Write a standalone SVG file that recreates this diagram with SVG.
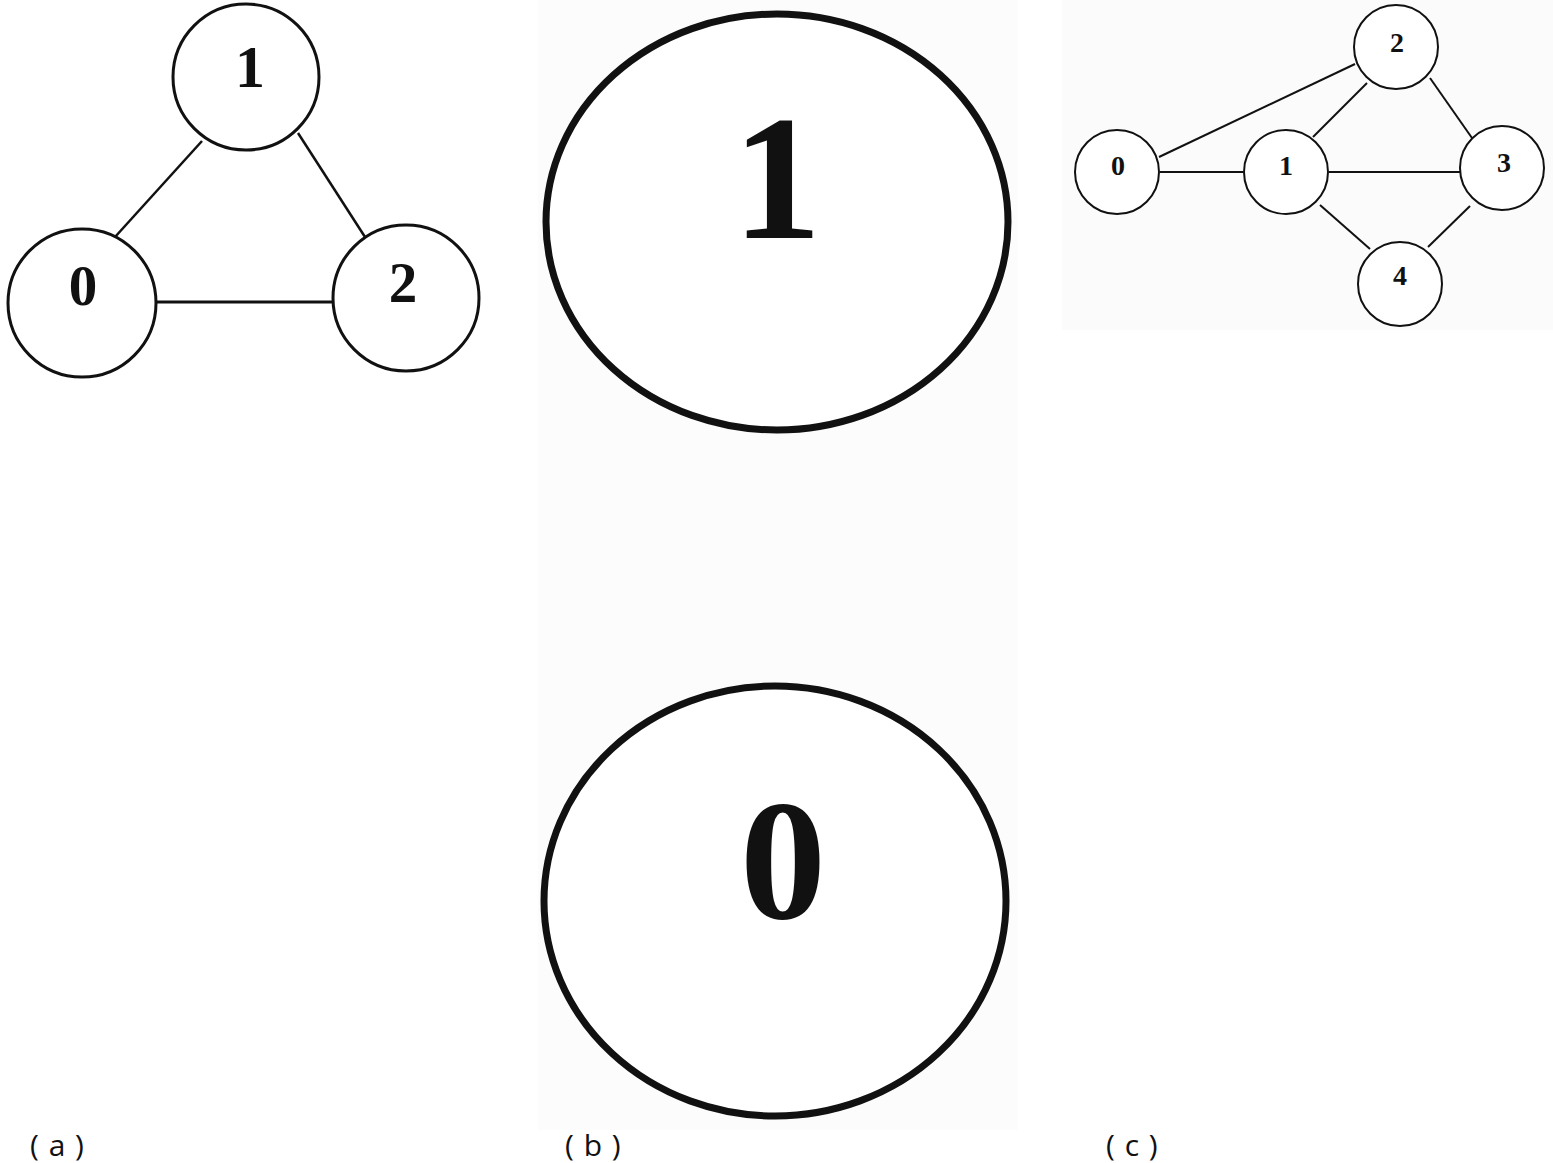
<svg xmlns="http://www.w3.org/2000/svg" width="1553" height="1163" viewBox="0 0 1553 1163">
<style>
.n{fill:#fff;stroke:#111}
.d{font-family:"Liberation Serif","Times New Roman",serif;font-weight:bold;fill:#111;text-anchor:middle}
.e{stroke:#111;fill:none}
.lab{font-family:"Open Sans","DejaVu Sans",sans-serif;font-size:30px;fill:#111;letter-spacing:1px}
</style>
<rect x="0" y="0" width="1553" height="1163" fill="#fff"/>
<rect x="538" y="0" width="480" height="1130" fill="#fcfcfc"/>
<rect x="1062" y="0" width="491" height="330" fill="#fbfbfb"/>
<g id="connectors">
  <g stroke-width="2.5" class="e">
    <line x1="156" y1="302" x2="332" y2="302" stroke-width="3"/>
    <line x1="202" y1="141" x2="115" y2="237"/>
    <line x1="298" y1="133" x2="365" y2="237"/>
  </g>
  <g stroke-width="2" class="e">
    <line x1="1159" y1="157" x2="1355" y2="64"/>
    <line x1="1160" y1="172" x2="1243" y2="172"/>
    <line x1="1313" y1="137" x2="1367" y2="83"/>
    <line x1="1430" y1="78" x2="1472" y2="138"/>
    <line x1="1329" y1="172" x2="1460" y2="172"/>
    <line x1="1320" y1="205" x2="1370" y2="249"/>
    <line x1="1470" y1="206" x2="1428" y2="247"/>
  </g>
</g>
<g id="a-node1"><circle class="n" cx="246" cy="77" r="73" stroke-width="3"/><text class="d" x="250" y="87" font-size="60">1</text></g>
<g id="a-node0"><circle class="n" cx="82" cy="303" r="74" stroke-width="3"/><text class="d" x="83" y="305" font-size="57">0</text></g>
<g id="a-node2"><circle class="n" cx="406" cy="298" r="73" stroke-width="3"/><text class="d" x="403" y="302" font-size="57">2</text></g>
<g id="b-node1"><ellipse class="n" cx="777" cy="222" rx="231" ry="208" stroke-width="7"/><text class="d" x="777" y="238" font-size="178">1</text></g>
<g id="b-node0"><ellipse class="n" cx="775" cy="901" rx="231" ry="215" stroke-width="7"/><text class="d" x="783" y="918" font-size="172">0</text></g>
<g id="c-node0"><circle class="n" cx="1117" cy="172" r="42" stroke-width="2"/><text class="d" x="1118" y="175" font-size="28">0</text></g>
<g id="c-node1"><circle class="n" cx="1286" cy="172" r="42" stroke-width="2"/><text class="d" x="1286" y="175" font-size="28">1</text></g>
<g id="c-node2"><circle class="n" cx="1396" cy="47" r="42" stroke-width="2"/><text class="d" x="1397" y="52" font-size="28">2</text></g>
<g id="c-node3"><circle class="n" cx="1502" cy="168" r="42" stroke-width="2"/><text class="d" x="1504" y="172" font-size="28">3</text></g>
<g id="c-node4"><circle class="n" cx="1400" cy="284" r="42" stroke-width="2"/><text class="d" x="1400" y="285" font-size="28">4</text></g>
<text class="lab" x="30" y="1156">( a )</text>
<text class="lab" x="565" y="1156">( b )</text>
<text class="lab" x="1106" y="1156">( c )</text>
</svg>
